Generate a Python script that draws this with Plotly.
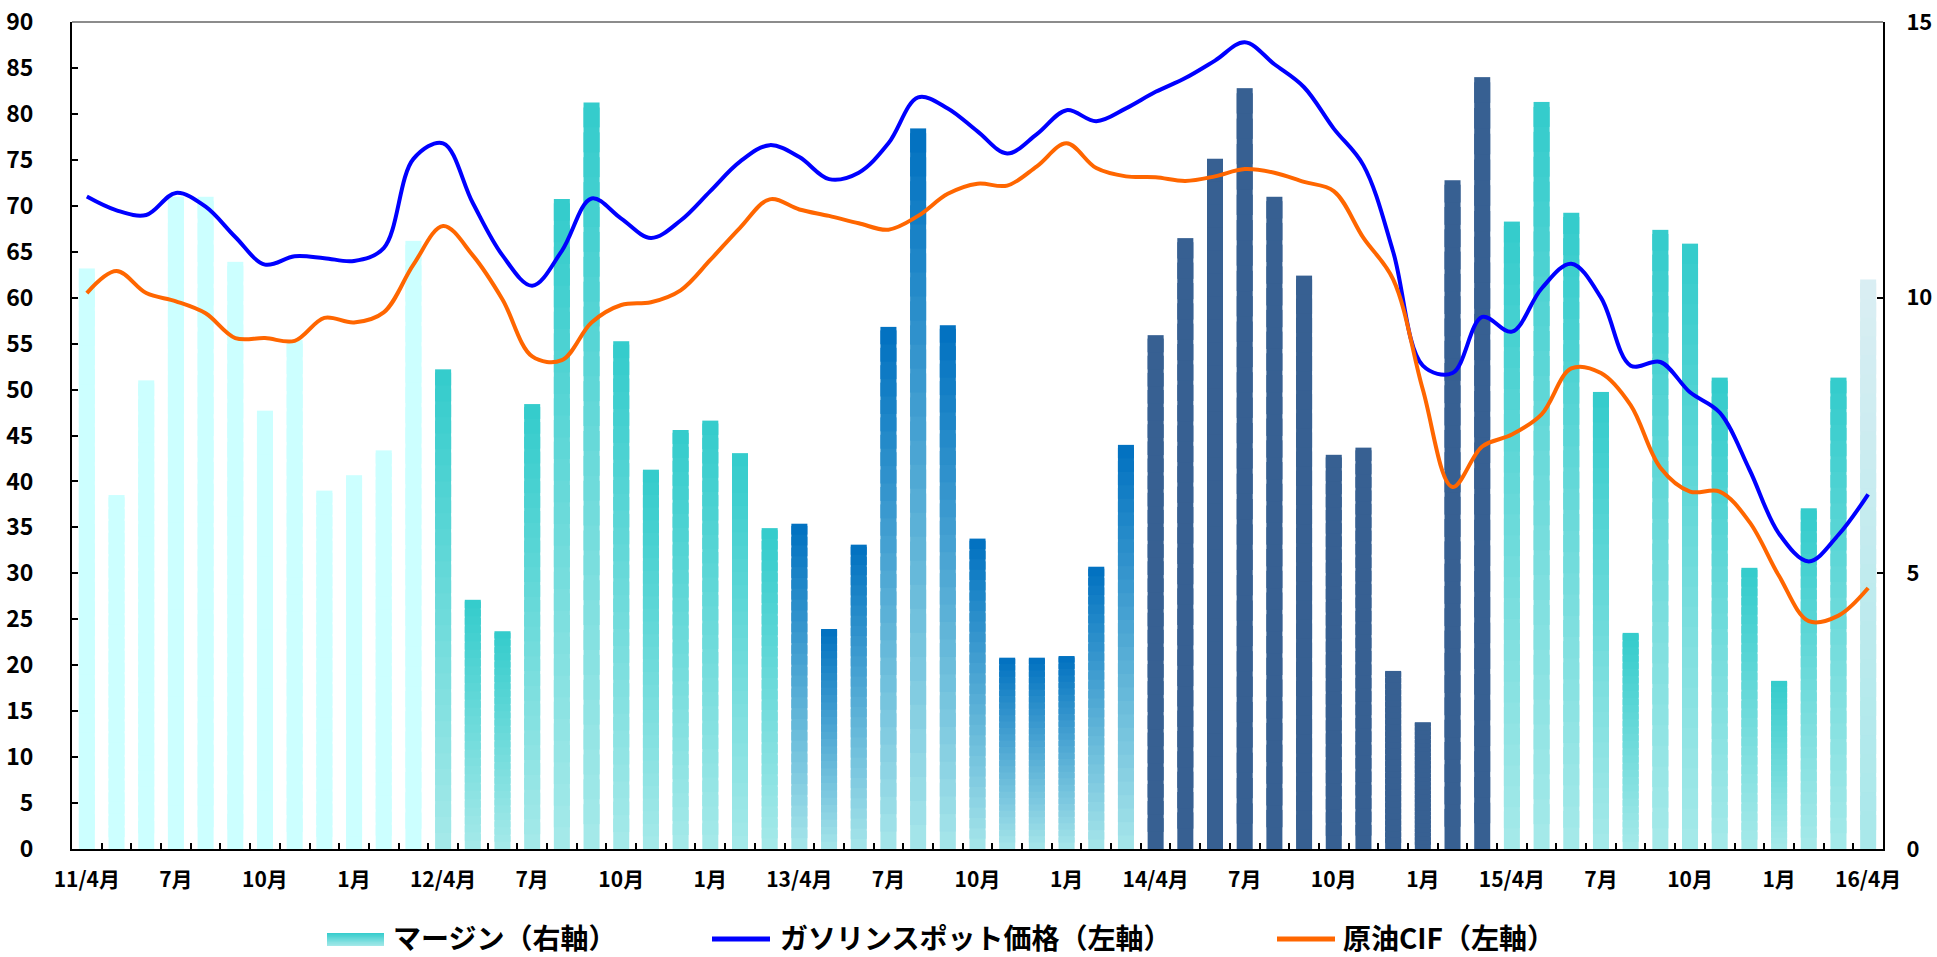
import plotly.graph_objects as go

# ---------------- data ----------------
months = [f"{2011 + (3 + i) // 12}-{(3 + i) % 12 + 1:02d}" for i in range(61)]

tick_labels = ["11/4月", "7月", "10月", "1月",
               "12/4月", "7月", "10月", "1月",
               "13/4月", "7月", "10月", "1月",
               "14/4月", "7月", "10月", "1月",
               "15/4月", "7月", "10月", "1月",
               "16/4月"]

# マージン（右軸）
margin_vals = [10.53, 6.42, 8.50, 11.83, 11.83, 10.65, 7.95, 9.23, 6.50, 6.78, 7.23, 11.03,
               8.70, 4.52, 3.95, 8.07, 11.79, 13.54, 9.21, 6.88, 7.60, 7.77, 7.18, 5.82,
               5.90, 3.99, 5.52, 9.47, 13.07, 9.50, 5.63, 3.47, 3.47, 3.50, 5.12, 7.33,
               9.32, 11.08, 12.52, 13.80, 11.83, 10.40, 7.15, 7.28, 3.23, 2.30, 12.13, 14.00,
               11.38, 13.55, 11.54, 8.29, 3.92, 11.23, 10.98, 8.55, 5.10, 3.05, 6.18, 8.55, 10.33]

# ガソリンスポット価格（左軸）
gasoline = [71.0, 69.5, 69.0, 71.4, 69.9, 66.6, 63.6, 64.5, 64.3, 64.0, 65.4, 75.1,
            76.8, 70.3, 64.6, 61.3, 65.1, 70.8, 68.6, 66.5, 68.4, 71.6, 74.8, 76.6,
            75.3, 72.9, 73.6, 76.8, 81.8, 80.6, 78.1, 75.7, 77.8, 80.4, 79.2, 80.6,
            82.4, 83.9, 85.8, 87.8, 85.4, 82.9, 78.4, 74.4, 65.0, 52.6, 51.8, 57.9,
            56.3, 61.0, 63.7, 60.0, 52.6, 53.0, 49.7, 47.5, 41.3, 34.3, 31.3, 34.2, 38.6]

# 原油CIF（左軸）
crude_cif = [60.5, 62.9, 60.5, 59.6, 58.3, 55.6, 55.6, 55.3, 57.8, 57.3, 58.4, 63.6,
             67.8, 64.6, 59.8, 53.6, 53.2, 57.3, 59.2, 59.5, 60.8, 64.1, 67.6, 70.7,
             69.6, 68.9, 68.1, 67.4, 68.9, 71.3, 72.4, 72.2, 74.3, 76.8, 74.1, 73.2,
             73.1, 72.7, 73.2, 74.0, 73.6, 72.6, 71.6, 66.5, 62.0, 50.0, 39.4, 43.8,
             45.1, 47.3, 52.3, 51.8, 48.3, 41.5, 38.9, 38.9, 35.6, 29.7, 24.8, 25.4, 28.4]

series_names = ["マージン（右軸）", "ガソリンスポット価格（左軸）", "原油CIF（左軸）"]

# ---------------- styles ----------------
W, H = 1937, 957
L, R, T, B = 72, 54, 22, 108
PW, PH = W - L - R, H - T - B

FONT = "Noto Sans CJK JP"
BLUE = "#0000FF"
ORANGE = "#FF6600"

# (top colour, bottom colour) per fiscal-year block of 12 months
fy_styles = [("#CCFFFF", "#CCFFFF"),
             ("#33CCCC", "#A6E9E9"),
             ("#0070C0", "#A6E6EA"),
             ("#376092", "#376092"),
             ("#33CCCC", "#A6E9E9"),
             ("#DAEEF3", "#A8E8EA")]


def hex2rgb(h):
    h = h.lstrip("#")
    return tuple(int(h[i:i + 2], 16) for i in (0, 2, 4))


def mix(bottom, top, t):
    a, b = hex2rgb(bottom), hex2rgb(top)
    c = [round(a[j] + (b[j] - a[j]) * t) for j in range(3)]
    return "#%02X%02X%02X" % tuple(c)


def px_x(X):
    return (X - L) / PW


def px_y(Y):
    return (T + PH - Y) / PH


fig = go.Figure()

# gradient bars: each bar is built from stacked segments of its own value
N = 30
for k in range(N):
    top_k = min(k + 1.8, N)
    base = [v * k / N for v in margin_vals]
    hgt = [v * (top_k - k) / N for v in margin_vals]
    cols = []
    for i in range(len(margin_vals)):
        ct, cb = fy_styles[i // 12]
        cols.append(mix(cb, ct, (k + 0.5) / N))
    fig.add_trace(go.Bar(
        x=months, y=hgt, base=base, yaxis="y",
        marker=dict(color=cols, line=dict(width=0)),
        width=0.54, showlegend=False, hoverinfo="skip"))

fig.add_trace(go.Scatter(
    x=months, y=gasoline, yaxis="y2", mode="lines", name=series_names[1],
    line=dict(color=BLUE, width=4, shape="spline", smoothing=1.0),
    showlegend=False))
fig.add_trace(go.Scatter(
    x=months, y=crude_cif, yaxis="y2", mode="lines", name=series_names[2],
    line=dict(color=ORANGE, width=4, shape="spline", smoothing=1.0),
    showlegend=False))

ticktext = []
j = 0
for i in range(len(months)):
    if i % 3 == 0:
        ticktext.append(tick_labels[j])
        j += 1
    else:
        ticktext.append("")

axis_common = dict(showline=True, linecolor="black", linewidth=2,
                   ticks="inside", ticklen=6, tickwidth=2, tickcolor="black",
                   showgrid=False, zeroline=False, automargin=False)

fig.update_layout(
    width=W, height=H,
    margin=dict(l=L, r=R, t=T, b=B),
    paper_bgcolor="white", plot_bgcolor="white",
    font=dict(family=FONT, size=21, color="black", weight="bold"),
    barmode="overlay",
    showlegend=False,
    xaxis=dict(type="category", categoryarray=months, range=[-0.5, len(months) - 0.5],
               tickmode="array", tickvals=months, ticktext=ticktext,
               tickson="boundaries", ticklabelstandoff=11, tickangle=0,
               tickfont=dict(size=21), **axis_common),
    yaxis=dict(side="right", range=[0, 15], tickmode="linear", tick0=0, dtick=5,
               ticklabelstandoff=17, tickfont=dict(size=22), **axis_common),
    yaxis2=dict(side="left", overlaying="y", range=[0, 90], tickmode="linear", tick0=0, dtick=5,
                ticklabelstandoff=32, tickfont=dict(size=23), **axis_common),
)

# top border
fig.add_shape(type="line", xref="paper", yref="paper", x0=0, x1=1, y0=1, y1=1,
              line=dict(color="#8C8C8C", width=2))

# ---------------- legend (drawn manually) ----------------
LEG_Y = 939
# gradient box for margin
ct, cb = fy_styles[1]
nseg = 10
for s in range(nseg):
    y0 = 946 - 13 * s / nseg
    y1 = max(933, 946 - 13 * (s + 1.6) / nseg)
    fig.add_shape(type="rect", xref="paper", yref="paper",
                  x0=px_x(327), x1=px_x(384), y0=px_y(y0), y1=px_y(y1),
                  fillcolor=mix(cb, ct, (s + 0.5) / nseg), line=dict(width=0))
fig.add_shape(type="line", xref="paper", yref="paper",
              x0=px_x(712), x1=px_x(770), y0=px_y(LEG_Y), y1=px_y(LEG_Y),
              line=dict(color=BLUE, width=5))
fig.add_shape(type="line", xref="paper", yref="paper",
              x0=px_x(1277), x1=px_x(1335), y0=px_y(LEG_Y), y1=px_y(LEG_Y),
              line=dict(color=ORANGE, width=5))
for name, X in zip(series_names, [391, 778, 1341]):
    fig.add_annotation(text=name, xref="paper", yref="paper",
                       x=px_x(X), y=px_y(937), xanchor="left", yanchor="middle",
                       showarrow=False, font=dict(size=28, family=FONT, color="black", weight="bold"))

fig.write_html(
    "out.html",
    config={"displayModeBar": False},
    post_script="document.body.style.margin='0';document.body.style.padding='0';"
                "document.body.style.overflow='hidden';",
)
